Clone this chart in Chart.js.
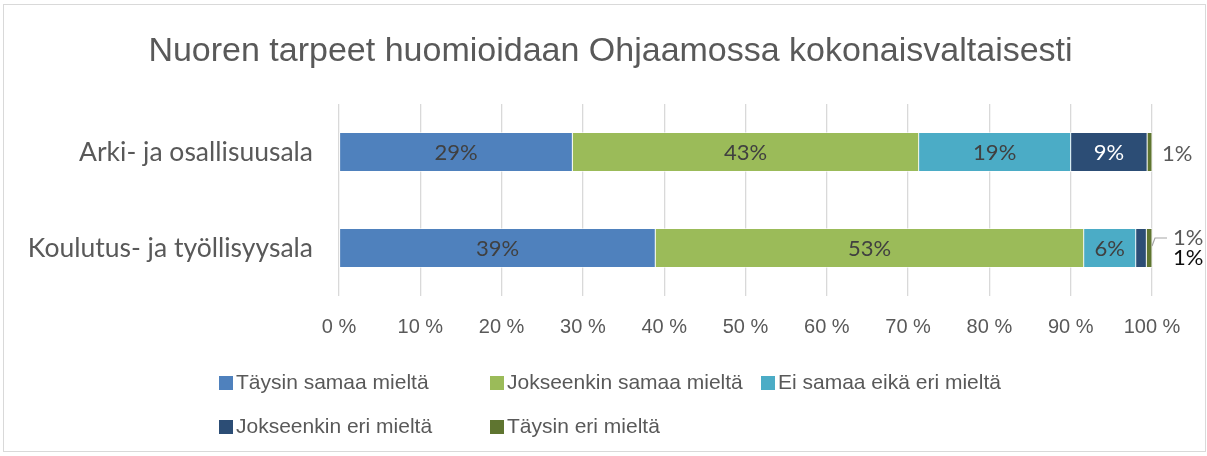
<!DOCTYPE html>
<html>
<head>
<meta charset="utf-8">
<script src="https://cdn.jsdelivr.net/npm/chart.js@4.4.1/dist/chart.umd.min.js"></script>
<style>
  body { margin: 0; background: #fff; }
  #box { position: absolute; left: 3px; top: 4px; width: 1201px; height: 446px; border: 1px solid #d9d9d9; }
</style>
</head>
<body>
<div id="box"><canvas id="chart"></canvas></div>
<script>
// data (percent of answers)
const categories = ["Arki- ja osallisuusala", "Koulutus- ja työllisyysala"];
const seriesNames = ["Täysin samaa mieltä", "Jokseenkin samaa mieltä", "Ei samaa eikä eri mieltä", "Jokseenkin eri mieltä", "Täysin eri mieltä"];
const taysinSamaa = [28.7, 38.9];
const jokseenkinSamaa = [42.6, 52.7];
const eiSamaaEikaEri = [18.7, 6.4];
const jokseenkinEri = [9.4, 1.3];
const taysinEri = [0.6, 0.7];
const xTicks = [0, 10, 20, 30, 40, 50, 60, 70, 80, 90, 100];
const chartTitle = "Nuoren tarpeet huomioidaan Ohjaamossa kokonaisvaltaisesti";

const colors = ["#4f81bd", "#9bbb59", "#4bacc6", "#2c4d75", "#5f7530"];
const insideText = ["#404040", "#404040", "#404040", "#ffffff", "#ffffff"];
// outside labels: gray, except the lower one of a stacked pair
const outsideGray = "#595959";
const outsideDark = "#0d0d0d";

const narrow = "'Liberation Sans Narrow', 'Liberation Sans', sans-serif";
const body = "Lato, 'Open Sans', sans-serif";

const values = [taysinSamaa, jokseenkinSamaa, eiSamaaEikaEri, jokseenkinEri, taysinEri];

const datasets = values.map((v, i) => ({
  label: seriesNames[i],
  data: v,
  backgroundColor: colors[i],
  borderColor: "#ffffff",
  borderWidth: 0.8,
  borderSkipped: false,
  barThickness: 39
}));

// title drawn by hand so it can sit a bit right of centre like the original
const titlePlugin = {
  id: "titleText",
  afterDraw(chart) {
    const ctx = chart.ctx;
    ctx.save();
    ctx.font = "34px " + narrow;
    ctx.fillStyle = "#595959";
    ctx.textAlign = "center";
    ctx.textBaseline = "middle";
    ctx.fillText(chartTitle, chart.width / 2 + 6, 47);
    ctx.restore();
  }
};

// percent labels, small ones go outside right of the bar
const segLabels = {
  id: "segLabels",
  afterDatasetsDraw(chart) {
    const ctx = chart.ctx;
    const right = chart.scales.x.getPixelForValue(100);
    ctx.save();
    ctx.textBaseline = "middle";
    for (let i = 0; i < categories.length; i++) {
      let small = [];
      let cy = 0;
      chart.data.datasets.forEach((ds, d) => {
        const el = chart.getDatasetMeta(d).data[i];
        const v = ds.data[i];
        const txt = Math.round(v) + "%";
        cy = el.y;
        if (v >= 3) {
          ctx.font = "22px " + body;
          ctx.textAlign = "center";
          ctx.fillStyle = insideText[d];
          ctx.fillText(txt, (el.x + el.base) / 2, el.y + 1);
        } else {
          small.push({ txt: txt, d: d });
        }
      });
      ctx.font = "22px " + body;
      ctx.textAlign = "left";
      if (small.length == 1) {
        ctx.fillStyle = outsideGray;
        ctx.fillText(small[0].txt, right + 10, cy + 2);
      } else if (small.length > 1) {
        for (let s = 0; s < small.length; s++) {
          const ly = cy - 10 + s * 20;
          ctx.fillStyle = s == 0 ? outsideGray : outsideDark;
          ctx.fillText(small[s].txt, right + 21, ly);
          if (s == 0) {
            ctx.strokeStyle = "#a6a6a6";
            ctx.lineWidth = 1.2;
            ctx.beginPath();
            ctx.moveTo(right, cy - 2);
            ctx.lineTo(right + 3, ly);
            ctx.lineTo(right + 15, ly);
            ctx.stroke();
          }
        }
      }
    }
    ctx.restore();
  }
};

// legend in columns like the original
const gridLegend = {
  id: "gridLegend",
  afterDraw(chart) {
    const ctx = chart.ctx;
    const left = chart.chartArea.left - 120;
    const top = chart.chartArea.bottom + 87;
    const colW = 271, rowH = 44, perRow = 3;
    ctx.save();
    ctx.font = "21px " + narrow;
    ctx.textBaseline = "middle";
    ctx.textAlign = "left";
    chart.data.datasets.forEach((ds, i) => {
      const x = left + (i % perRow) * colW;
      const y = top + Math.floor(i / perRow) * rowH;
      ctx.fillStyle = ds.backgroundColor;
      ctx.fillRect(x, y - 7, 14, 14);
      ctx.fillStyle = "#595959";
      ctx.fillText(ds.label, x + 17, y);
    });
    ctx.restore();
  }
};

new Chart(document.getElementById("chart"), {
  type: "bar",
  data: { labels: categories, datasets: datasets },
  plugins: [segLabels, gridLegend, titlePlugin],
  options: {
    indexAxis: "y",
    responsive: true,
    maintainAspectRatio: false,
    animation: false,
    layout: { padding: { left: 0, right: 53, top: 99, bottom: 0 } },
    plugins: {
      legend: { display: false },
      tooltip: { enabled: false },
      title: { display: false }
    },
    scales: {
      x: {
        stacked: true,
        min: 0,
        max: 100,
        afterBuildTicks: (scale) => { scale.ticks = xTicks.map(v => ({ value: v })); },
        afterFit: (scale) => { scale.height = 155; },
        grid: { color: "#d9d9d9", lineWidth: 1.3, drawTicks: false },
        border: { display: false },
        ticks: {
          padding: 19,
          color: "#595959",
          font: { family: narrow, size: 20 },
          callback: (v) => v + " %"
        }
      },
      y: {
        stacked: true,
        afterFit: (scale) => { scale.width = 335; },
        grid: { display: false },
        border: { display: false },
        ticks: {
          padding: 18,
          color: "#595959",
          font: { family: body, size: 26.5 }
        }
      }
    }
  }
});
</script>
</body>
</html>
